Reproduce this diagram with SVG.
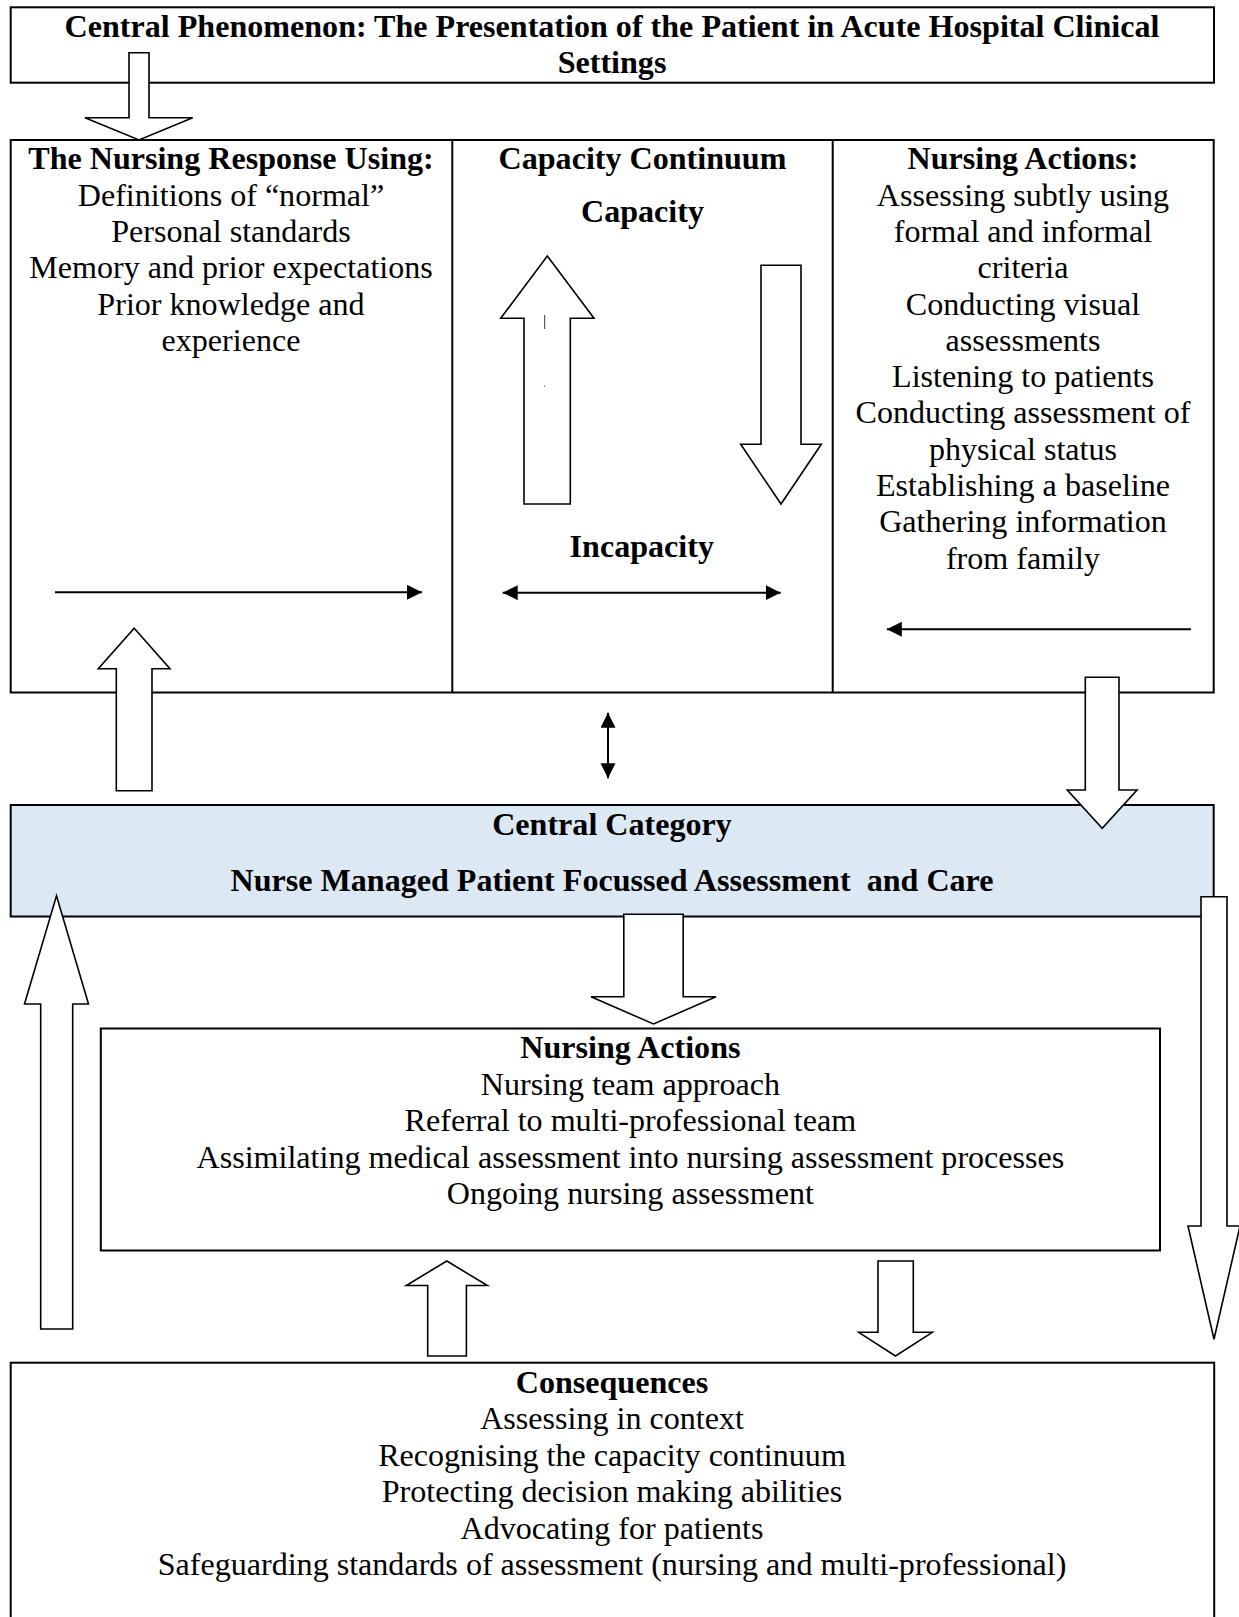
<svg xmlns="http://www.w3.org/2000/svg" width="1239" height="1617" viewBox="0 0 1239 1617">
  <style>
    .box { fill: #ffffff; stroke: #000000; stroke-width: 2; }
    .central { fill: #dde8f5; stroke: #000000; stroke-width: 2; }
    .block { fill: #ffffff; stroke: #000000; stroke-width: 1.6; stroke-linejoin: miter; }
    .line { fill: none; stroke: #000000; stroke-width: 2; }
    text { font-family: "Liberation Serif", "Times New Roman", serif; font-size: 32.1px; fill: #000000; text-anchor: middle; }
    .b { font-weight: bold; }
  </style>
  <defs>
    <marker id="head" markerUnits="userSpaceOnUse" markerWidth="16" markerHeight="16" refX="15" refY="7.5" orient="auto-start-reverse">
      <path d="M0,0 L15,7.5 L0,15 z" fill="#000000"/>
    </marker>
  </defs>

  <rect width="1239" height="1617" fill="#ffffff"/>

  <!-- Central phenomenon -->
  <g id="central-phenomenon">
    <rect class="box" x="10.7" y="7.3" width="1203.3" height="75.4"/>
    <text class="b" x="612" y="36.7">Central Phenomenon: The Presentation of the Patient in Acute Hospital Clinical</text>
    <text class="b" x="612" y="72.7">Settings</text>
  </g>

  <!-- Three-column panel frame -->
  <g id="panel">
    <rect class="box" x="10.7" y="140" width="1203" height="552.5"/>
    <line class="line" x1="452.3" y1="140" x2="452.3" y2="692.5"/>
    <line class="line" x1="832.7" y1="140" x2="832.7" y2="692.5"/>
  </g>

  <g id="nursing-response">
    <text class="b" x="231" y="169.3">The Nursing Response Using:</text>
    <text x="231" y="205.6">Definitions of “normal”</text>
    <text x="231" y="241.9">Personal standards</text>
    <text x="231" y="278.2">Memory and prior expectations</text>
    <text x="231" y="314.5">Prior knowledge and</text>
    <text x="231" y="350.8">experience</text>
  </g>

  <g id="capacity-continuum">
    <text class="b" x="642.5" y="169.3">Capacity Continuum</text>
    <text class="b" x="642.5" y="222">Capacity</text>
    <text class="b" x="641.8" y="556.7">Incapacity</text>
    <polygon class="block" points="547.3,256 594,318.3 570.3,318.3 570.3,504 524,504 524,318.3 500.7,318.3"/>
    <polygon class="block" points="761,265.3 801,265.3 801,444.3 821.3,444.3 781,504 740.7,444.3 761,444.3"/>
    <line x1="544.7" y1="315" x2="544.7" y2="329" stroke="#000000" stroke-width="0.8"/>
    <rect x="544.2" y="385.5" width="1" height="1" fill="#000000"/>
  </g>

  <g id="nursing-actions-assessment">
    <text class="b" x="1023" y="169.3">Nursing Actions:</text>
    <text x="1023" y="205.6">Assessing subtly using</text>
    <text x="1023" y="241.9">formal and informal</text>
    <text x="1023" y="278.2">criteria</text>
    <text x="1023" y="314.5">Conducting visual</text>
    <text x="1023" y="350.8">assessments</text>
    <text x="1023" y="387.1">Listening to patients</text>
    <text x="1023" y="423.4">Conducting assessment of</text>
    <text x="1023" y="459.7">physical status</text>
    <text x="1023" y="496">Establishing a baseline</text>
    <text x="1023" y="532.3">Gathering information</text>
    <text x="1023" y="568.6">from family</text>
  </g>

  <!-- Central category -->
  <g id="central-category">
    <rect class="central" x="10.7" y="805" width="1203" height="111.5"/>
    <text class="b" x="612" y="835">Central Category</text>
    <text class="b" x="612" y="890.7" xml:space="preserve">Nurse Managed Patient Focussed Assessment  and Care</text>
  </g>

  <!-- Nursing actions (team) -->
  <g id="nursing-actions-team">
    <rect class="box" x="100.8" y="1028.5" width="1059.2" height="222"/>
    <text class="b" x="630.4" y="1058.4">Nursing Actions</text>
    <text x="630.4" y="1094.9">Nursing team approach</text>
    <text x="630.4" y="1131.4">Referral to multi-professional team</text>
    <text x="630.4" y="1167.9">Assimilating medical assessment into nursing assessment processes</text>
    <text x="630.4" y="1204.4">Ongoing nursing assessment</text>
  </g>

  <!-- Consequences -->
  <g id="consequences">
    <rect class="box" x="10.7" y="1362.7" width="1203.5" height="300"/>
    <text class="b" x="612" y="1392.7">Consequences</text>
    <text x="612" y="1429.2">Assessing in context</text>
    <text x="612" y="1465.7">Recognising the capacity continuum</text>
    <text x="612" y="1502.2">Protecting decision making abilities</text>
    <text x="612" y="1538.7">Advocating for patients</text>
    <text x="612" y="1575.2">Safeguarding standards of assessment (nursing and multi-professional)</text>
  </g>

  <!-- Connectors -->
  <g id="connectors">
    <!-- thin arrows -->
    <path class="line" d="M55,592.3 H422" marker-end="url(#head)"/>
    <path class="line" d="M502.7,592.7 H780.7" marker-start="url(#head)" marker-end="url(#head)"/>
    <path class="line" d="M1191,629.3 H886.8" marker-end="url(#head)"/>
    <path class="line" d="M608,712.7 V778.3" marker-start="url(#head)" marker-end="url(#head)"/>

    <!-- block arrows -->
    <polygon class="block" points="129,52.7 149,52.7 149,117.7 192.7,117.7 139,140 85,117.7 129,117.7"/>
    <polygon class="block" points="134.2,628.3 170,668.7 152,668.7 152,790.7 116.3,790.7 116.3,668.7 98.3,668.7"/>
    <polygon class="block" points="1085.3,677.3 1119,677.3 1119,790 1137,790 1102.2,828.3 1067.3,790 1085.3,790"/>
    <polygon class="block" points="623.8,914.3 683.2,914.3 683.2,996.7 716,996.7 653.5,1024 591,996.7 623.8,996.7"/>
    <polygon class="block" points="56.5,895.7 88.5,1004 72.7,1004 72.7,1329 40.7,1329 40.7,1004 24.5,1004"/>
    <polygon class="block" points="1201,896.7 1227,896.7 1227,1226 1240,1226 1214,1339.3 1188,1226 1201,1226"/>
    <polygon class="block" points="446.8,1261 487.4,1285.5 466.4,1285.5 466.4,1356 427.7,1356 427.7,1285.5 406.3,1285.5"/>
    <polygon class="block" points="878,1261 913.3,1261 913.3,1332.3 932.3,1332.3 895.5,1356 858.7,1332.3 878,1332.3"/>
  </g>
</svg>
